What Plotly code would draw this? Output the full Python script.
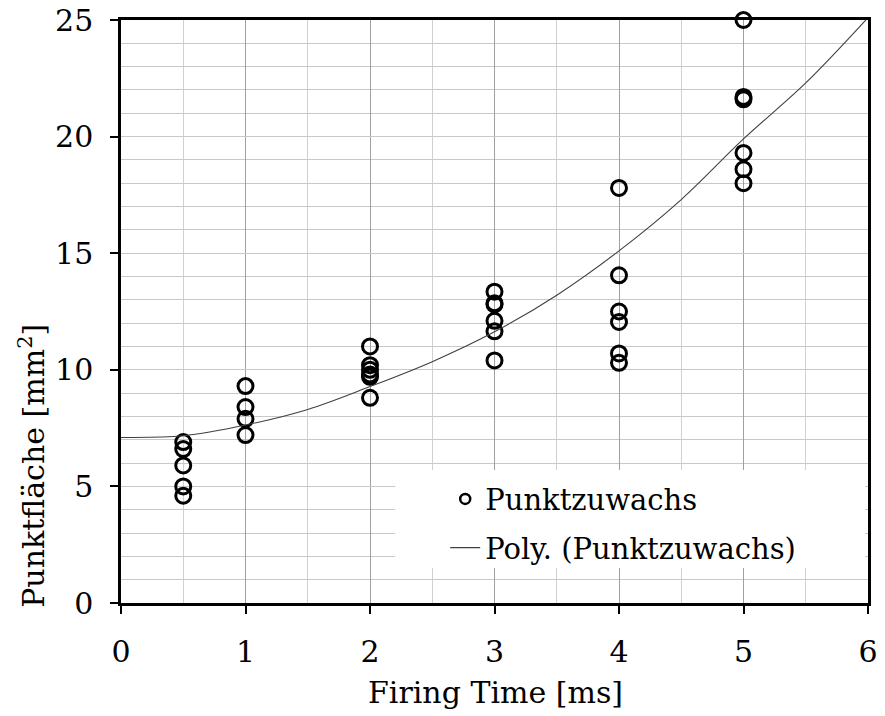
import plotly.graph_objects as go

# Measured points (Firing Time [ms], Punktfläche [mm²])
x_pts = [0.5, 0.5, 0.5, 0.5, 0.5,
         1, 1, 1, 1,
         2, 2, 2, 2, 2, 2,
         3, 3, 3, 3, 3, 3,
         4, 4, 4, 4, 4, 4,
         5, 5, 5, 5, 5, 5]
y_pts = [6.9, 6.6, 5.9, 5.0, 4.6,
         9.3, 8.4, 7.9, 7.2,
         11.0, 10.2, 10.0, 9.8, 9.7, 8.8,
         13.35, 12.85, 12.8, 12.1, 11.65, 10.4,
         17.8, 14.05, 12.5, 12.05, 10.7, 10.3,
         25.0, 21.7, 21.6, 19.3, 18.6, 18.0]

# Polynomial trendline
x_trend = [0, 0.5, 1, 1.5, 2, 2.5, 3, 3.5, 4, 4.5, 5, 5.5, 6]
y_trend = [7.10, 7.17, 7.63, 8.3, 9.28, 10.35, 11.63, 13.2, 15.1, 17.3, 19.9, 22.3, 25.1]

x_ticks = [0, 1, 2, 3, 4, 5, 6]
y_ticks = [0, 5, 10, 15, 20, 25]

FONT = "DejaVu Serif"

fig = go.Figure()
fig.add_trace(go.Scatter(
    x=x_pts, y=y_pts, mode="markers", name="Punktzuwachs",
    marker=dict(symbol="circle-open", size=15, color="black",
                line=dict(width=3, color="black")),
    cliponaxis=False, showlegend=False,
))
# legend entry for the points (smaller symbol, as in the reference legend)
fig.add_trace(go.Scatter(
    x=[None], y=[None], mode="markers", name="Punktzuwachs",
    marker=dict(symbol="circle-open", size=10, color="black",
                line=dict(width=2.5, color="black")),
    legendgroup="a",
))
fig.add_trace(go.Scatter(
    x=x_trend, y=y_trend, mode="lines", name="Poly. (Punktzuwachs)",
    line=dict(color="#404040", width=1.1, shape="spline"),
    legendgroup="b",
))

fig.update_layout(
    width=885, height=716,
    margin=dict(l=121, r=17, t=20, b=113, autoexpand=False),
    paper_bgcolor="white", plot_bgcolor="white",
    font=dict(family=FONT, size=29, color="black"),
    showlegend=True,
    legend=dict(
        x=0.434, y=0.222, xanchor="left", yanchor="top",
        bgcolor="rgba(255,255,255,0)", borderwidth=0,
        font=dict(family=FONT, size=29, color="black"),
        tracegroupgap=8,
    ),
    shapes=[
        dict(type="rect", xref="paper", yref="paper",
             x0=0.367, x1=0.996, y0=0.06, y1=0.228,
             fillcolor="white", line=dict(width=0), layer="above"),
    ],
    xaxis=dict(
        range=[0, 6], tickvals=x_ticks, ticktext=[str(v) for v in x_ticks],
        showline=True, linecolor="black", linewidth=2.5, mirror=True,
        ticks="outside", ticklen=8, tickwidth=2, tickcolor="black",
        showgrid=True, gridcolor="#a0a0a0", gridwidth=1.3,
        minor=dict(dtick=0.5, showgrid=True, gridcolor="#d0d0d0", gridwidth=1.3),
        zeroline=False, ticklabelstandoff=12, automargin=False,
        tickfont=dict(family=FONT, size=30),
    ),
    yaxis=dict(
        range=[0, 25], tickvals=y_ticks, ticktext=[str(v) for v in y_ticks],
        showline=True, linecolor="black", linewidth=2.5, mirror=True,
        ticks="outside", ticklen=8, tickwidth=2, tickcolor="black",
        showgrid=True, gridcolor="#c8c8c8", gridwidth=1.3,
        minor=dict(dtick=1, showgrid=True, gridcolor="#c8c8c8", gridwidth=1.3),
        zeroline=False, ticklabelstandoff=11, automargin=False,
        tickfont=dict(family=FONT, size=30),
    ),
    annotations=[
        dict(text="Firing Time [ms]", xref="paper", yref="paper",
             x=0.502, y=-0.153, xanchor="center", yanchor="middle",
             showarrow=False, font=dict(family=FONT, size=30)),
        dict(text="Punktfläche [mm<sup>2</sup>]", xref="paper", yref="paper",
             x=-0.118, y=0.235, xanchor="center", yanchor="middle",
             textangle=-90, showarrow=False, font=dict(family=FONT, size=30)),
    ],
)

fig.write_html("out.html")
